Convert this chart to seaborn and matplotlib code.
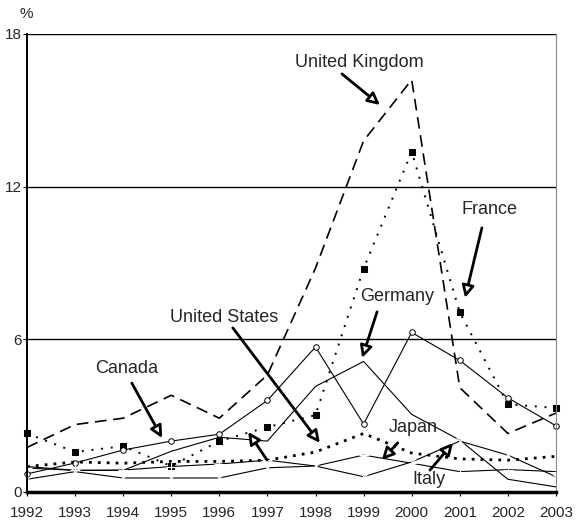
import pandas as pd
import seaborn as sns
import matplotlib.pyplot as plt

years = list(range(1992, 2004))
uk = [1.75, 2.65, 2.9, 3.8, 2.9, 4.6, 8.8, 13.8, 16.2, 4.1, 2.3, 3.1]
france = [2.3, 1.57, 1.8, 1.02, 2.0, 2.55, 3.02, 8.78, 13.37, 7.06, 3.45, 3.3]
germany = [1.0, 0.85, 0.85, 1.6, 2.15, 2.0, 4.15, 5.13, 3.05, 2.04, 0.5, 0.2]
canada = [0.71, 1.14, 1.65, 2.0, 2.27, 3.6, 5.7, 2.67, 6.27, 5.17, 3.7, 2.6]
us = [1.0, 1.18, 1.13, 1.2, 1.2, 1.25, 1.57, 2.3, 1.53, 1.3, 1.25, 1.4]
japan = [0.94, 0.85, 0.86, 1.0, 1.1, 1.25, 1.02, 1.45, 1.13, 0.8, 0.88, 0.8]
italy = [0.5, 0.8, 0.55, 0.55, 0.55, 0.95, 1.02, 0.6, 1.18, 2.0, 1.45, 0.6]
y_ticks = [0, 6, 12, 18]

sns.set_style('white')
plt.rcParams['font.family'] = ['Liberation Sans', 'DejaVu Sans']

fig = plt.figure(figsize=(5.79, 5.25), dpi=100)
ax = fig.add_axes([0.0466, 0.0629, 0.9136, 0.8724])

# line styles per country
styles = [
    (uk, dict(lw=1.2, dashes=(7, 4))),
    (france, dict(lw=1.4, dashes=(1, 4), marker='s', markersize=4.5,
                  markerfacecolor='black', markeredgecolor='black')),
    (germany, dict(lw=0.8)),
    (canada, dict(lw=0.8, marker='o', markersize=4,
                  markerfacecolor='white', markeredgecolor='black', markeredgewidth=0.7)),
    (us, dict(lw=2.0, dashes=(1, 2.2))),
    (japan, dict(lw=0.8, marker='+', markersize=7, markeredgewidth=0.8)),
    (italy, dict(lw=0.8, marker='x', markersize=6, markeredgewidth=0.8)),
]
for vals, kw in styles:
    df = pd.DataFrame({'year': years, 'value': vals})
    sns.lineplot(data=df, x='year', y='value', color='black', ax=ax,
                 clip_on=False, **kw)

ax.set_xlim(1992, 2003)
ax.set_ylim(0, 18)
ax.set_xticks(years)
ax.set_yticks(y_ticks)
ax.set_xlabel('')
ax.set_ylabel('')
for y in [6, 12, 18]:
    ax.axhline(y, color='black', lw=1.0, zorder=0.5)

ax.spines['left'].set_linewidth(1.4)
ax.spines['bottom'].set_linewidth(2.5)
ax.spines['top'].set_visible(False)
ax.spines['right'].set_color('#888888')
ax.spines['right'].set_linewidth(0.8)
for s in ['left', 'bottom']:
    ax.spines[s].set_color('black')

ax.tick_params(axis='x', bottom=True, direction='out', length=3, width=0.8,
               pad=7, labelsize=11, color='black')
ax.tick_params(axis='y', left=True, direction='out', length=3, width=0.8,
               pad=0.5, labelsize=11, color='black')

fig.text(26 / 579, 1 - 14 / 525, '%', fontsize=11, ha='center', va='center')

# labels and arrows
labels = [
    ('United Kingdom', (1998.91, 16.86), (1998.55, 16.43), (1999.34, 15.21)),
    ('France', (2001.62, 11.12), (2001.46, 10.38), (2001.11, 7.63)),
    ('Germany', (1999.69, 7.67), (1999.28, 7.08), (1998.97, 5.27)),
    ('United States', (1996.10, 6.84), (1996.28, 6.45), (1998.09, 1.93)),
    ('Canada', (1994.08, 4.87), (1994.18, 4.28), (1994.81, 2.12)),
    ('Japan', (2000.03, 2.52), (1999.71, 1.93), (1999.38, 1.26)),
    ('Italy', (2000.36, 0.51), (2000.38, 0.86), (2000.86, 1.93)),
    ('', None, (1996.99, 1.26), (1996.60, 2.36)),
]
for text, pos, start, tip in labels:
    if text:
        ax.text(pos[0], pos[1], text, fontsize=13, ha='center', va='center')
    ax.annotate('', xy=tip, xytext=start,
                arrowprops=dict(arrowstyle='-|>', lw=2, color='black',
                                fc='white', mutation_scale=18, shrinkA=0, shrinkB=0))

fig.savefig('out.png', dpi=100)
